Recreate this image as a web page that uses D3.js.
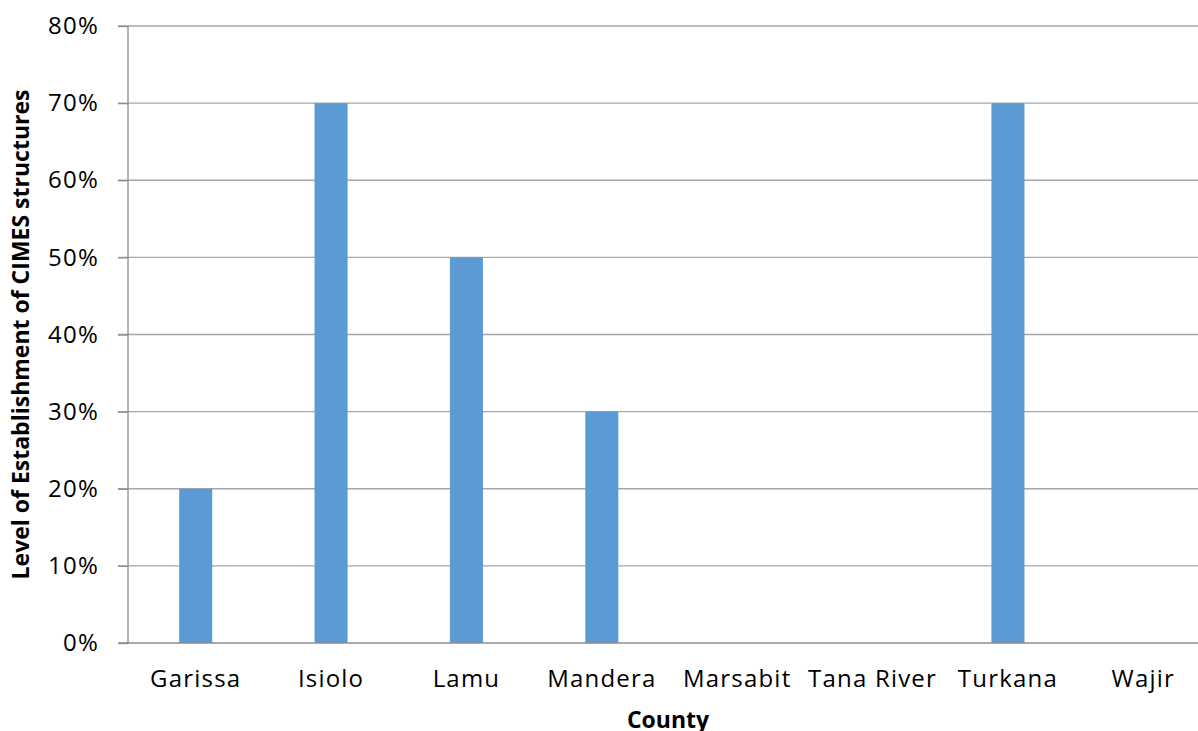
<!DOCTYPE html>
<html>
<head>
<meta charset="utf-8">
<script src="https://cdn.jsdelivr.net/npm/d3@7"></script>
<style>
  body { margin: 0; background: #fff; }
  svg { display: block; }
  svg text { font-family: "Open Sans", sans-serif; }
</style>
</head>
<body>
<div id="chart"></div>
<script>
// Data
const counties = ["Garissa", "Isiolo", "Lamu", "Mandera", "Marsabit", "Tana River", "Turkana", "Wajir"];
const levels = [0.2, 0.7, 0.5, 0.3, 0, 0, 0.7, 0];
const yTicks = [0, 0.1, 0.2, 0.3, 0.4, 0.5, 0.6, 0.7, 0.8];

// Dimensions
const width = 1198;
const height = 731;
const plot = { left: 128, right: 1211, top: 26, bottom: 643 };

const svg = d3.select("#chart")
  .append("svg")
  .attr("width", width)
  .attr("height", height);

// Scales
const xScale = d3.scaleBand()
  .domain(counties)
  .range([plot.left, plot.right])
  .paddingInner(0.756)
  .paddingOuter(0.378);

const yScale = d3.scaleLinear()
  .domain([0, 0.8])
  .range([plot.bottom, plot.top]);

// Gridlines
svg.append("g")
  .selectAll("line")
  .data(yTicks.slice(1))
  .join("line")
  .attr("x1", plot.left - 10)
  .attr("x2", width)
  .attr("y1", (d) => yScale(d))
  .attr("y2", (d) => yScale(d))
  .attr("stroke", "#a6a6a6")
  .attr("stroke-width", 1.3);

// Bars
svg.append("g")
  .selectAll("rect")
  .data(counties)
  .join("rect")
  .attr("x", (d) => xScale(d))
  .attr("width", xScale.bandwidth())
  .attr("y", (d, i) => yScale(levels[i]))
  .attr("height", (d, i) => plot.bottom - yScale(levels[i]))
  .attr("fill", "#5b9bd5");

// Y axis
const yAxis = d3.axisLeft(yScale)
  .tickValues(yTicks)
  .tickFormat(d3.format(".0%"))
  .tickSize(10)
  .tickPadding(19);

const yG = svg.append("g")
  .attr("transform", `translate(${plot.left}, 0)`)
  .call(yAxis);
yG.attr("font-family", null);
yG.select(".domain").attr("stroke", "#8c8c8c").attr("stroke-width", 1.3)
  .attr("d", `M0,${plot.top}V${plot.bottom}`);
yG.selectAll(".tick line").attr("stroke", "#8c8c8c").attr("stroke-width", 1.3);
yG.selectAll(".tick text").attr("font-size", 24).attr("letter-spacing", 1.2).attr("fill", "#000");

// X axis
const xAxis = d3.axisBottom(xScale).tickSize(0).tickPadding(27);
const xG = svg.append("g")
  .attr("transform", `translate(0, ${plot.bottom})`)
  .call(xAxis);
xG.attr("font-family", null);
xG.select(".domain").attr("stroke", "#8c8c8c").attr("stroke-width", 1.5)
  .attr("d", `M${plot.left - 10},0H${width}`);
xG.selectAll(".tick text").attr("font-size", 24).attr("letter-spacing", 1.2).attr("fill", "#000");

// Axis titles
svg.append("text")
  .attr("x", 668)
  .attr("y", 728)
  .attr("text-anchor", "middle")
  .attr("font-size", 23)
  .attr("font-weight", "bold")
  .text("County");

svg.append("text")
  .attr("transform", `translate(29, ${(plot.top + plot.bottom) / 2}) rotate(-90)`)
  .attr("text-anchor", "middle")
  .attr("font-size", 23)
  .attr("font-weight", "bold")
  .text("Level of Establishment of CIMES structures");
</script>
</body>
</html>
